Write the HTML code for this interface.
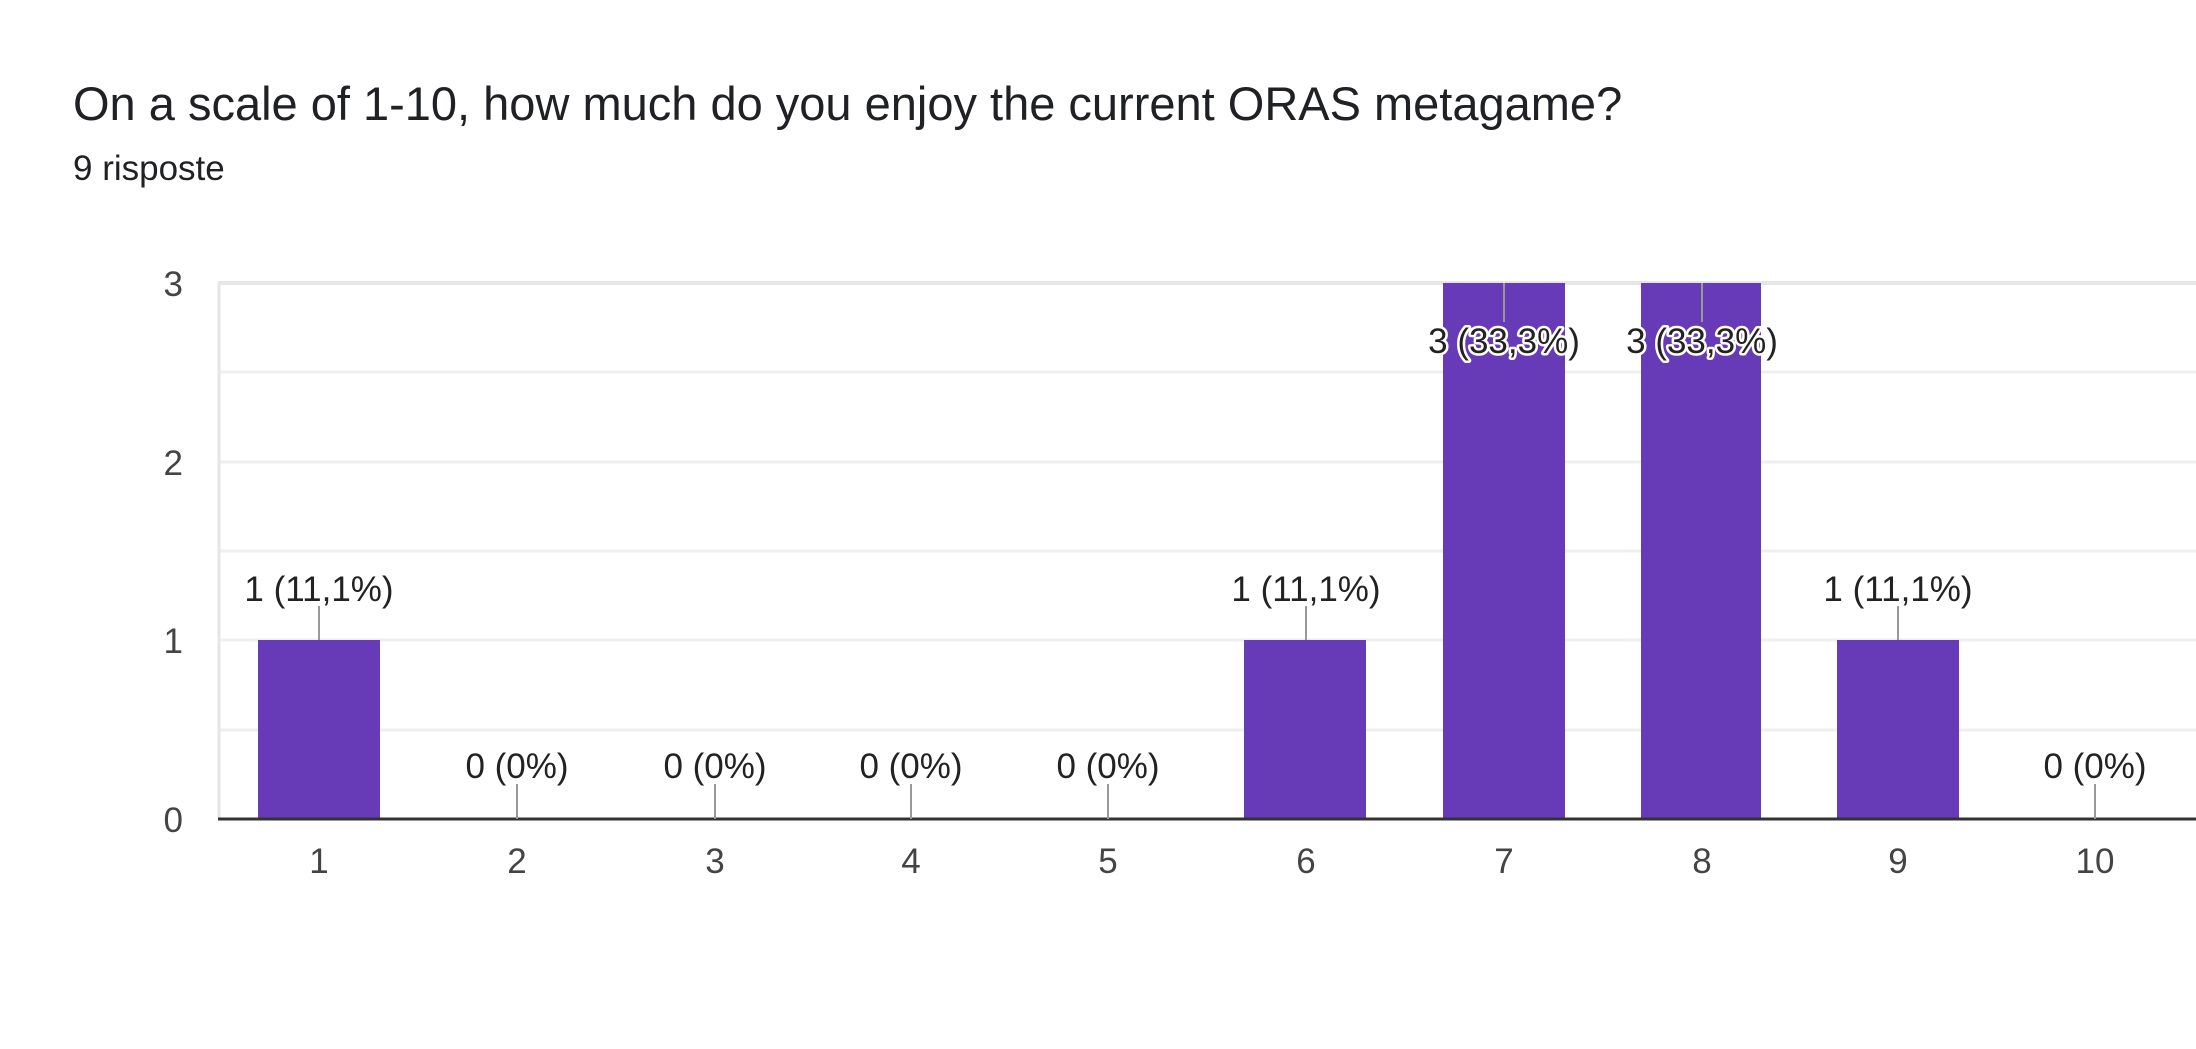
<!DOCTYPE html>
<html><head><style>
html,body{margin:0;padding:0;background:#fff;}
body{width:2196px;height:1044px;overflow:hidden;font-family:"Liberation Sans",Arial,sans-serif;}
</style></head><body>
<svg width="2196" height="1044" xmlns="http://www.w3.org/2000/svg" font-family="Liberation Sans, Arial, sans-serif">
<text x="73" y="120" font-size="47" fill="#202124">On a scale of 1-10, how much do you enjoy the current ORAS metagame?</text>
<text x="73" y="180" font-size="35" fill="#202124">9 risposte</text>
<g stroke="#efefef" stroke-width="3">
<line x1="218" y1="372" x2="2196" y2="372"/>
<line x1="218" y1="462" x2="2196" y2="462"/>
<line x1="218" y1="551" x2="2196" y2="551"/>
<line x1="218" y1="640" x2="2196" y2="640"/>
<line x1="218" y1="730" x2="2196" y2="730"/>
</g>
<line x1="218" y1="283" x2="2196" y2="283" stroke="#e6e6e6" stroke-width="4"/>
<line x1="219" y1="283" x2="219" y2="819" stroke="#e6e6e6" stroke-width="3"/>
<g fill="#444" font-size="35" text-anchor="end">
<text x="183" y="296">3</text><text x="183" y="475">2</text><text x="183" y="653">1</text><text x="183" y="832">0</text>
</g>
<g fill="#673ab7">
<rect x="258" y="640" width="122" height="179"/>
<rect x="1244" y="640" width="122" height="179"/>
<rect x="1443" y="283" width="122" height="536"/>
<rect x="1641" y="283" width="120" height="536"/>
<rect x="1837" y="640" width="122" height="179"/>
</g>
<line x1="218" y1="819" x2="2196" y2="819" stroke="#333" stroke-width="3"/>
<g stroke="#999" stroke-width="2">
<line x1="319" y1="606" x2="319" y2="640"/>
<line x1="517" y1="784" x2="517" y2="819"/>
<line x1="715" y1="784" x2="715" y2="819"/>
<line x1="911" y1="784" x2="911" y2="819"/>
<line x1="1108" y1="784" x2="1108" y2="819"/>
<line x1="1306" y1="606" x2="1306" y2="640"/>
<line x1="1504" y1="283" x2="1504" y2="322"/>
<line x1="1702" y1="283" x2="1702" y2="322"/>
<line x1="1898" y1="606" x2="1898" y2="640"/>
<line x1="2095" y1="784" x2="2095" y2="819"/>
</g>
<g fill="#222" font-size="35" text-anchor="middle">
<text x="319" y="601">1 (11,1%)</text>
<text x="517" y="778">0 (0%)</text>
<text x="715" y="778">0 (0%)</text>
<text x="911" y="778">0 (0%)</text>
<text x="1108" y="778">0 (0%)</text>
<text x="1306" y="601">1 (11,1%)</text>
<text x="1898" y="601">1 (11,1%)</text>
<text x="2095" y="778">0 (0%)</text>
<g stroke="#fff" stroke-width="5" paint-order="stroke" stroke-linejoin="round">
<text x="1504" y="353">3 (33,3%)</text>
<text x="1702" y="353">3 (33,3%)</text>
</g>
</g>
<g fill="#444" font-size="35" text-anchor="middle">
<text x="319" y="873">1</text><text x="517" y="873">2</text><text x="715" y="873">3</text><text x="911" y="873">4</text><text x="1108" y="873">5</text>
<text x="1306" y="873">6</text><text x="1504" y="873">7</text><text x="1702" y="873">8</text><text x="1898" y="873">9</text><text x="2095" y="873">10</text>
</g>
</svg>
</body></html>
